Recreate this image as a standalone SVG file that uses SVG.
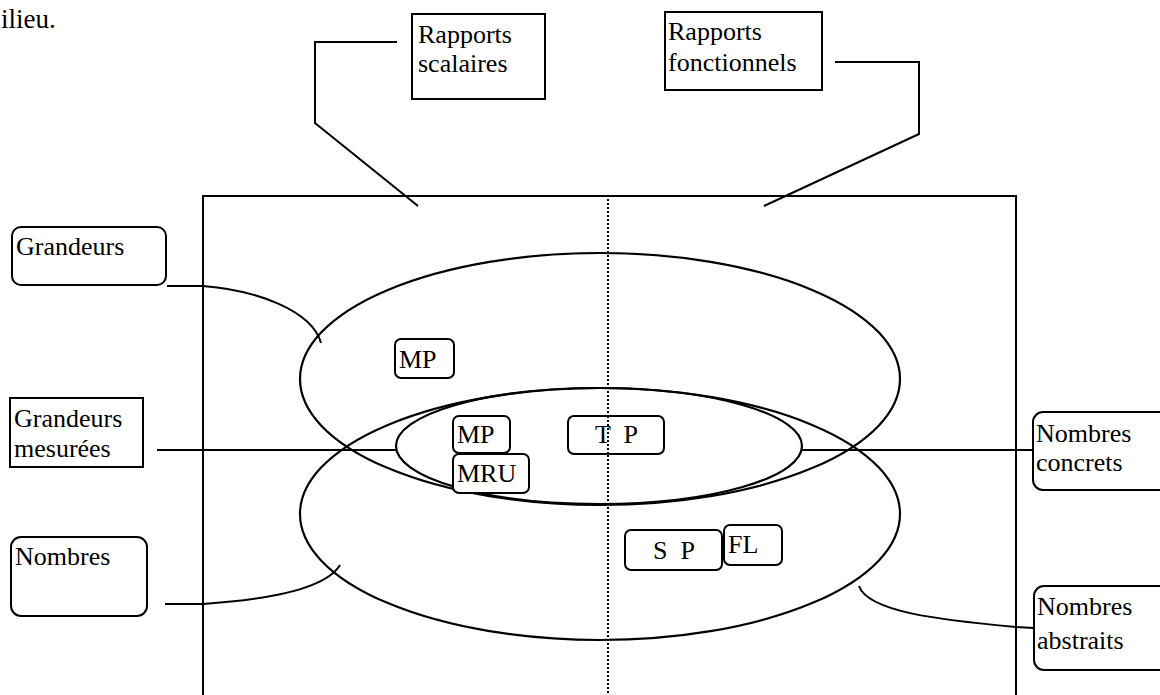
<svg xmlns="http://www.w3.org/2000/svg" width="1160" height="695" viewBox="0 0 1160 695">
<style>
text{font-family:"Liberation Serif","Times New Roman",serif;font-size:26px;fill:#000;white-space:pre}
.b{fill:#fff;stroke:#000;stroke-width:2}
.l{fill:none;stroke:#000;stroke-width:2}
.e{fill:none;stroke:#000;stroke-width:2.2}
.d{fill:none;stroke:#000;stroke-width:2;stroke-dasharray:2 2}
</style>
<rect width="1160" height="695" fill="#fff"/>
<text x="1" y="28" style="font-size:27px">ilieu.</text>
<g id="frame">
<path class="l" d="M203,700 V196 H1016 V700"/>
<line class="d" x1="608" y1="199" x2="608" y2="695"/>
</g>
<g id="ellipses">
<ellipse id="grandeurs-set" class="e" cx="600" cy="379" rx="300" ry="126"/>
<ellipse id="nombres-set" class="e" cx="600" cy="514" rx="300" ry="126"/>
<ellipse id="mesurees-set" class="e" cx="599" cy="446" rx="203" ry="58"/>
</g>
<g id="connectors">
<path class="l" d="M397,42 H315 V123 L418,206"/>
<path class="l" d="M835,62 H919 V134 L764,206"/>
<path class="l" d="M167,286 L203,286 C255,290 312,310 321,343"/>
<line class="l" x1="157" y1="450" x2="396" y2="450"/>
<line class="l" x1="802" y1="450" x2="1033" y2="450"/>
<path class="l" d="M165,604 L203,604 C262,600 325,590 340,565"/>
<path class="l" d="M859,586 C868,612 940,620 1016,627 L1034,628"/>
</g>
<g id="rapports-scalaires">
<rect class="b" x="412" y="14" width="133" height="85"/>
<text x="418" y="43">Rapports</text>
<text x="418" y="72">scalaires</text>
</g>
<g id="rapports-fonctionnels">
<rect class="b" x="665" y="12" width="157" height="78"/>
<text x="668" y="40">Rapports</text>
<text x="668" y="71">fonctionnels</text>
</g>
<g id="grandeurs">
<rect class="b" x="12" y="227" width="154" height="58" rx="9"/>
<text x="16" y="255">Grandeurs</text>
</g>
<g id="grandeurs-mesurees">
<rect class="b" x="10" y="398" width="133" height="69"/>
<text x="14" y="427">Grandeurs</text>
<text x="14" y="457">mesurées</text>
</g>
<g id="nombres">
<rect class="b" x="11" y="537" width="136" height="79" rx="10"/>
<text x="15" y="565">Nombres</text>
</g>
<g id="nombres-concrets">
<rect class="b" x="1033" y="412" width="140" height="78" rx="10"/>
<text x="1036" y="442">Nombres</text>
<text x="1036" y="471">concrets</text>
</g>
<g id="nombres-abstraits">
<rect class="b" x="1034" y="586" width="140" height="84" rx="10"/>
<text x="1037" y="615">Nombres</text>
<text x="1037" y="649">abstraits</text>
</g>
<g id="mp-grandeurs">
<rect class="b" x="395" y="339" width="59" height="39" rx="6"/>
<text x="399" y="368">MP</text>
</g>
<g id="mp-mesurees">
<rect class="b" x="453" y="416" width="57" height="37" rx="6"/>
<text x="457" y="443">MP</text>
</g>
<g id="mru">
<rect class="b" x="453" y="454" width="76" height="39" rx="6"/>
<text x="457" y="482">MRU</text>
</g>
<g id="tp">
<rect class="b" x="568" y="416" width="96" height="38" rx="6"/>
<text x="595" y="443">T  P</text>
</g>
<g id="sp">
<rect class="b" x="625" y="530" width="97" height="40" rx="6"/>
<text x="653" y="559">S  P</text>
</g>
<g id="fl">
<rect class="b" x="724" y="525" width="58" height="40" rx="6"/>
<text x="728" y="553">FL</text>
</g>
<line class="d" x1="608" y1="416" x2="608" y2="454"/>
</svg>
